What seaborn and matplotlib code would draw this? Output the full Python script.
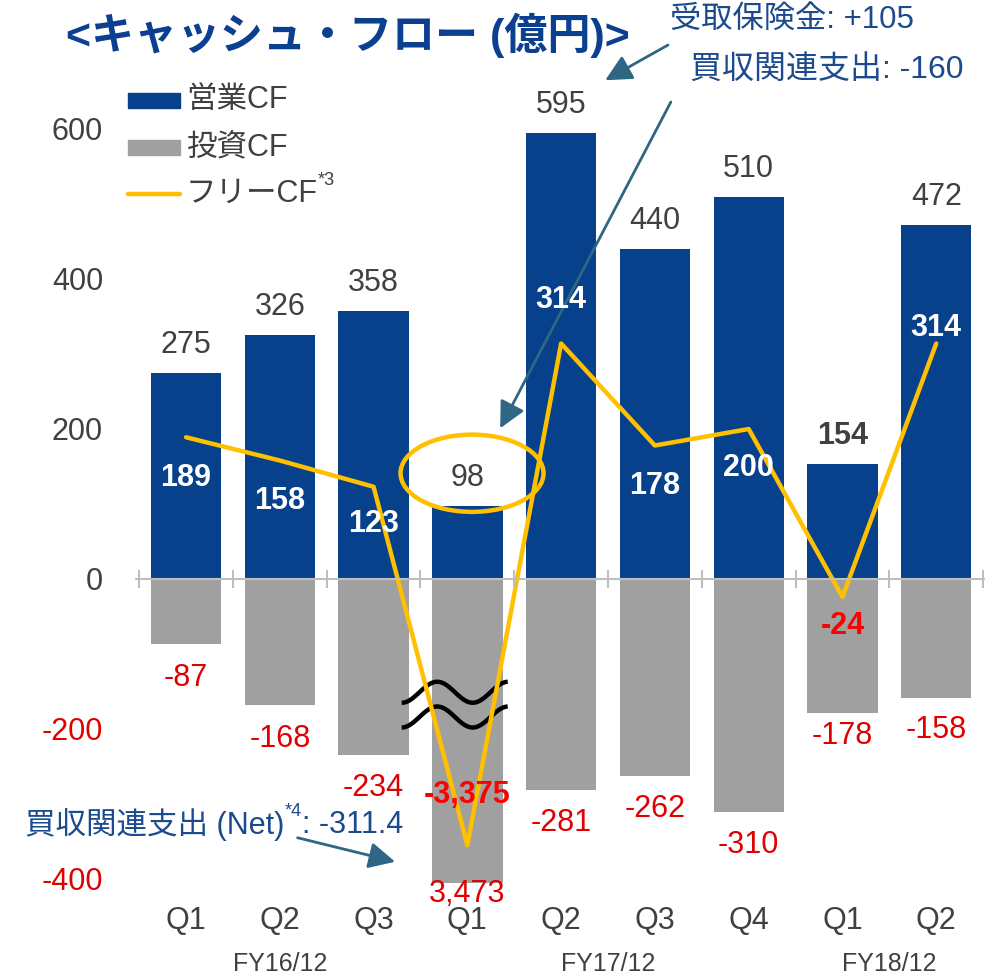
import numpy as np
import matplotlib
matplotlib.use("Agg")
import matplotlib.pyplot as plt
import matplotlib.transforms as mtransforms
from matplotlib.patches import Ellipse, Rectangle
from matplotlib.lines import Line2D
import seaborn as sns

# ---- data (億円) ----
quarters = ["Q1", "Q2", "Q3", "Q1", "Q2", "Q3", "Q4", "Q1", "Q2"]
fiscal_years = ["FY16/12", "FY17/12", "FY18/12"]
fy_centers = [1, 4.5, 7.5]
operating_cf = [275, 326, 358, 98, 595, 440, 510, 154, 472]
investing_cf = [-87, -168, -234, -3473, -281, -262, -310, -178, -158]
free_cf = [189, 158, 123, -3375, 314, 178, 200, -24, 314]
# FY17 Q1 runs off the scale, so it is drawn cut at the axis break
investing_drawn = [-87, -168, -234, -405, -281, -262, -310, -178, -158]
free_drawn = [189, 158, 123, -355, 314, 178, 200, -24, 314]
broken = 3

BLUE = "#08418B"
GRAY = "#A0A0A0"
YELLOW = "#FFC000"
DARK = "#404040"
RED = "#E00000"
NAVY = "#1B4A8E"
TITLE_BLUE = "#0B3F8F"
ARROW = "#2F6683"

sns.set_theme(style="white")
plt.rcParams["font.family"] = ["Liberation Sans", "Noto Sans CJK JP"]

W, H = 995, 977
fig = plt.figure(figsize=(W / 100, H / 100), dpi=100)
ax = fig.add_axes([135 / W, 1 - 900 / H, 850 / W, 840 / H])

pos = np.arange(len(quarters))
sns.barplot(x=pos, y=operating_cf, native_scale=True, width=0.75, color=BLUE,
            saturation=1, linewidth=0, errorbar=None, ax=ax)
sns.barplot(x=pos, y=investing_drawn, native_scale=True, width=0.75, color=GRAY,
            saturation=1, linewidth=0, errorbar=None, ax=ax)
sns.lineplot(x=pos, y=free_drawn, color=YELLOW, lw=3.2, ax=ax, zorder=4)

ax.set_xlim(-0.544, 8.52)
ax.set_ylim(-428, 692)
for s in ax.spines.values():
    s.set_visible(False)

# zero line with small category separators
ax.axhline(0, color="#BFBFBF", lw=1.5, zorder=5)
ax.vlines(np.arange(-0.5, len(quarters), 1), -12, 12, color="#BFBFBF", lw=1.5, zorder=5)

yt = [-400, -200, 0, 200, 400, 600]
ax.set_yticks(yt, [str(v) for v in yt])
for lab, v in zip(ax.get_yticklabels(), yt):
    lab.set_color(RED if v < 0 else DARK)
ax.tick_params(axis="y", length=0, pad=23, labelsize=22)
ax.set_xticks(pos, quarters)
ax.tick_params(axis="x", length=0, pad=4, labelsize=22, labelcolor=DARK)
ax.set_xlabel("")
ax.set_ylabel("")

trans = mtransforms.blended_transform_factory(ax.transData, fig.transFigure)
for c, fy in zip(fy_centers, fiscal_years):
    ax.text(c, 1 - 964 / H, fy, transform=trans, ha="center", va="center",
            fontsize=18, color=DARK)

# value labels
for i, v in enumerate(operating_cf):
    ax.annotate(f"{v:,}", (i, v), xytext=(0, 20), textcoords="offset points",
                ha="center", va="center", fontsize=22, color=DARK,
                fontweight="bold" if i == 7 else "normal", zorder=7)

inv_off = [-24.5, -24.5, -24, -8, -24, -24, -24, -17, -23.5]
for i, v in enumerate(investing_cf):
    txt = f"{abs(v):,}" if i == broken else f"{v:,}"
    ax.annotate(txt, (i, investing_drawn[i]), xytext=(0, inv_off[i]),
                textcoords="offset points", ha="center", va="center",
                fontsize=22, color=RED, zorder=7)

fcf_off = [-29, -29, -27, 36, 31, -29, -28, -21, 11]
for i, v in enumerate(free_cf):
    ax.annotate(f"{v:,}", (i, free_drawn[i]), xytext=(0, fcf_off[i]),
                textcoords="offset points", ha="center", va="center",
                fontsize=22, fontweight="bold",
                color="#FF0000" if v < 0 else "white", zorder=7)

# highlight ellipse around FY17 Q1 operating CF
ax.add_patch(Ellipse((3.05, 141), 1.525, 103, fill=False, ec=YELLOW, lw=3.2, zorder=6))

# axis-break waves
xs = np.linspace(2.30, 3.43, 120)
for c in (-151, -184):
    ax.plot(xs, c - 14 * np.cos(2 * np.pi * (xs - 2.30) / 0.757), color="black",
            lw=3.2, zorder=3, solid_capstyle="butt")

# title
fig.text(66 / W, 1 - 35 / H, "<キャッシュ・フロー (億円)>", fontsize=31,
         fontweight="bold", color=TITLE_BLUE, ha="left", va="center")

# legend (manual)
fig.add_artist(Rectangle((128 / W, 1 - 108 / H), 52 / W, 15 / H,
                         transform=fig.transFigure, color=BLUE))
fig.add_artist(Rectangle((128 / W, 1 - 155 / H), 52 / W, 15 / H,
                         transform=fig.transFigure, color=GRAY))
fig.add_artist(Line2D([128 / W, 180 / W], [1 - 194 / H] * 2, transform=fig.transFigure,
                      lw=3.2, color=YELLOW, solid_capstyle="round"))
fig.text(186 / W, 1 - 100 / H, "営業CF", fontsize=22, color=DARK, va="center")
fig.text(186 / W, 1 - 147 / H, "投資CF", fontsize=22, color=DARK, va="center")
t_free = fig.text(186 / W, 1 - 194 / H, "フリーCF", fontsize=22, color=DARK, va="center")
ax.annotate("*3", xy=(1, 0.95), xycoords=t_free, ha="left", va="center",
            fontsize=13, color=DARK, annotation_clip=False)

# notes
fig.text(670 / W, 1 - 20 / H, "受取保険金: +105", fontsize=22.5, color=NAVY, va="center")
fig.text(690 / W, 1 - 70 / H, "買収関連支出: -160", fontsize=23, color=NAVY, va="center")
t_net = fig.text(25 / W, 1 - 825 / H, "買収関連支出 (Net)", fontsize=22, color=NAVY,
                 va="center")
t_sup = ax.annotate("*4", xy=(1, 0.9), xycoords=t_net, ha="left", va="center",
                    fontsize=13, color=NAVY, annotation_clip=False)
ax.annotate(": -311.4", xy=(1, 0.5), xycoords=(t_sup, t_net), ha="left", va="center",
            fontsize=22, color=NAVY, annotation_clip=False)

arrow = dict(arrowstyle="-|>,head_length=0.8,head_width=0.4", color=ARROW, lw=2,
             mutation_scale=20, shrinkA=0, shrinkB=0)
ax.annotate("", xy=(4.47, 665), xytext=(5.14, 712), arrowprops=arrow, annotation_clip=False)
ax.annotate("", xy=(3.35, 201), xytext=(5.17, 636), arrowprops=arrow, annotation_clip=False)
ax.annotate("", xy=(2.23, -377), xytext=(1.19, -345), arrowprops=arrow, annotation_clip=False)

fig.savefig("out.png", dpi=100)
